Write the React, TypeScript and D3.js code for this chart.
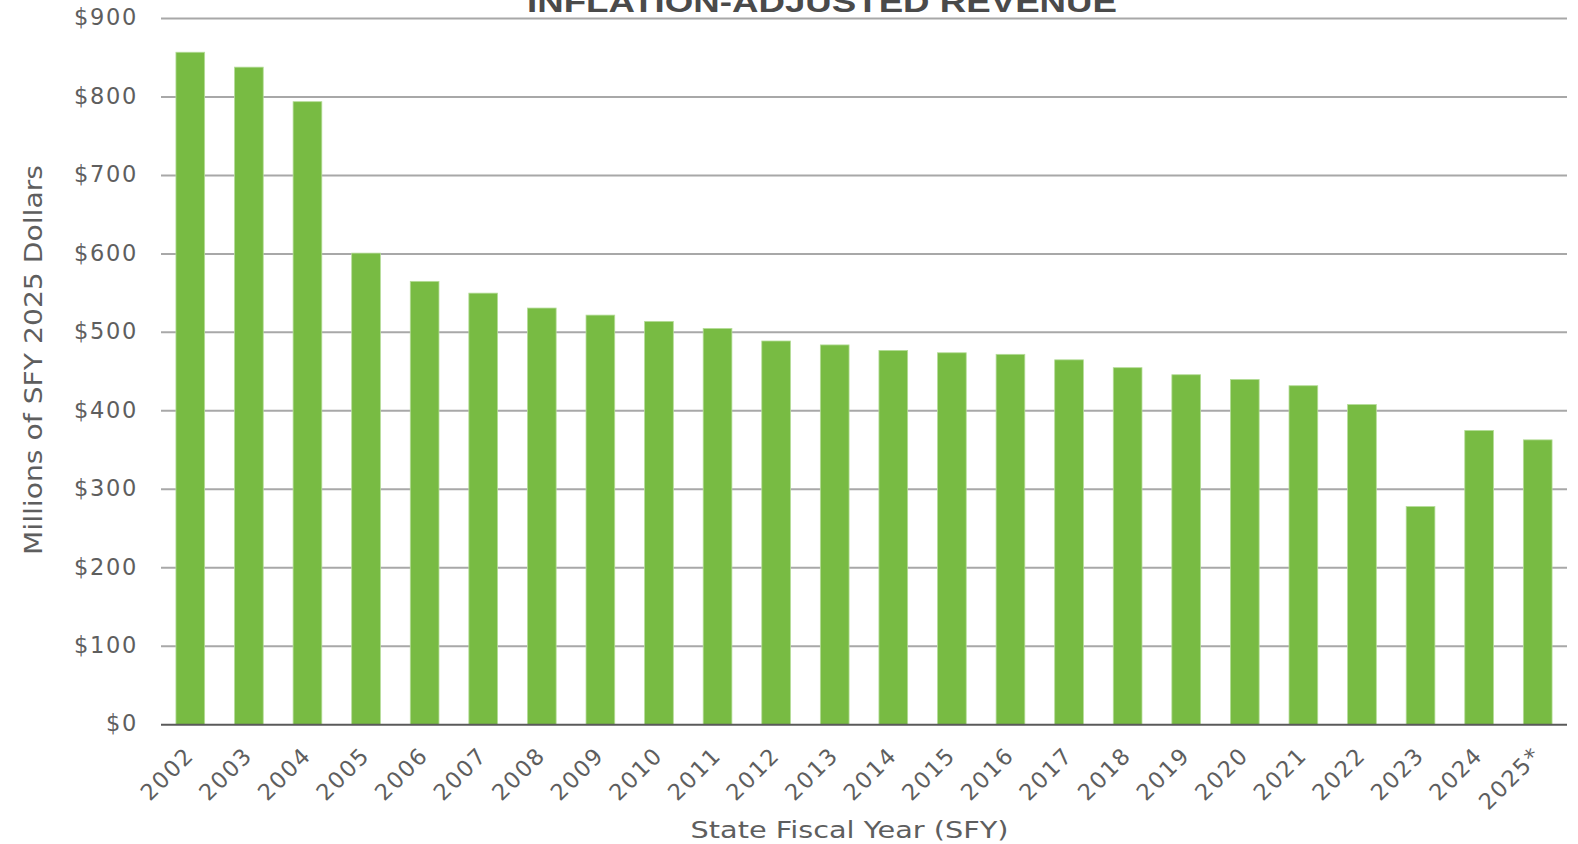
import React from "react";
import * as d3 from "d3";

const years = ["2002","2003","2004","2005","2006","2007","2008","2009","2010","2011","2012","2013","2014","2015","2016","2017","2018","2019","2020","2021","2022","2023","2024","2025*"];
const revenue = [857,838,794,601,565,550,531,522,514,505,489,484,477,474,472,465,455,446,440,432,408,278,375,363];
const yTicks = [0,100,200,300,400,500,600,700,800,900];
const title = "INFLATION-ADJUSTED REVENUE";
const yTitle = "Millions of SFY 2025 Dollars";
const xTitle = "State Fiscal Year (SFY)";

const W = 1578, H = 844;
const m = { left: 161, right: 11, top: 18.5, bottom: 119.3 };

export default function App() {
  const x = d3.scaleBand<string>().domain(years).range([m.left, W - m.right]).paddingInner(0.51).paddingOuter(0.255);
  const y = d3.scaleLinear().domain([0, 900]).range([H - m.bottom, m.top]);
  const labelFont = "'DejaVu Sans', 'Noto Sans', sans-serif";
  const grey = "#5e5e5e";
  const ls = 1.7;
  return (
    <svg width={W} height={H} style={{ position: "absolute", left: 0, top: 0, background: "#fff" }}>
      {yTicks.filter(t => t > 0).map(t => (
        <line key={"g" + t} x1={m.left} x2={W - m.right} y1={y(t)} y2={y(t)} stroke="#a8a8a8" strokeWidth={2} />
      ))}
      {yTicks.map(t => (
        <text key={"t" + t} x={138} y={y(t)} dy="0.3em" textAnchor="end" fontFamily={labelFont} fontSize={22.5} letterSpacing={ls} fill={grey}>
          {"$" + t}
        </text>
      ))}
      {years.map((yr, i) => (
        <rect key={yr} x={x(yr)} y={y(revenue[i])} width={x.bandwidth()} height={y(0) - y(revenue[i])}
          fill="#78bb43" stroke="#b5dc98" strokeWidth={0.8} />
      ))}
      <line x1={m.left} x2={W - m.right} y1={y(0)} y2={y(0)} stroke="#5a5a5a" strokeWidth={2} />
      {years.map(yr => {
        const cx = (x(yr) as number) + x.bandwidth() / 2 + 5;
        const cy = y(0) + 32;
        return (
          <text key={"x" + yr} transform={`translate(${cx},${cy}) rotate(-45)`} textAnchor="end" fontFamily={labelFont} fontSize={22.5} letterSpacing={ls} fill={grey}>
            {yr}
          </text>
        );
      })}
      <text transform={`translate(41.5,360) rotate(-90)`} textAnchor="middle" fontFamily={labelFont} fontSize={25} textLength={390} lengthAdjust="spacingAndGlyphs" fill={grey}>
        {yTitle}
      </text>
      <text x={849.5} y={838} textAnchor="middle" fontFamily={labelFont} fontSize={23} textLength={318} lengthAdjust="spacingAndGlyphs" fill={grey}>
        {xTitle}
      </text>
      <text x={822} y={12} textAnchor="middle" fontFamily="'Liberation Sans', Arial, sans-serif" fontWeight="bold" fontSize={30} fill="#4a4a4a" textLength={590} lengthAdjust="spacingAndGlyphs">
        {title}
      </text>
    </svg>
  );
}
